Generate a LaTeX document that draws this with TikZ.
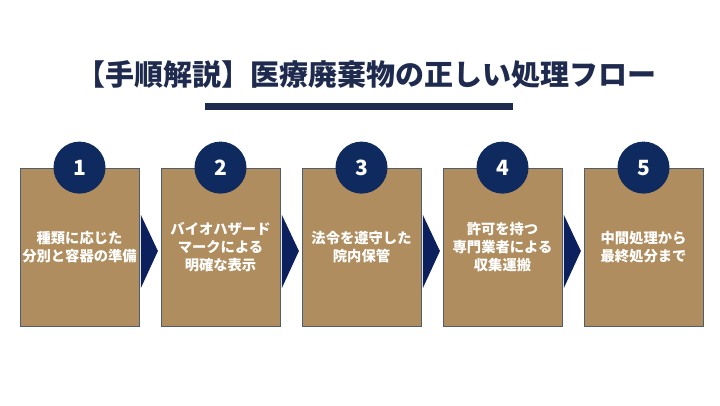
\documentclass[tikz,border=0pt]{standalone}
\usepackage{fontspec}
\setmainfont{Noto Sans CJK JP}
\newfontfamily\heavyjp{Noto Sans CJK JP Black}
\definecolor{titlenavy}{HTML}{1F2A4F}
\definecolor{circnavy}{HTML}{0E2A5E}
\definecolor{chevnavy}{HTML}{0B205C}
\definecolor{tan}{HTML}{B08D5E}
\definecolor{boxedge}{HTML}{4E5E6A}
\tikzset{
  stepbox/.style={draw=boxedge, line width=0.8pt, fill=tan, minimum width=119pt, minimum height=158pt, inner sep=0pt},
  steptext/.style={text=white, align=center, font=\heavyjp\fontsize{14.3}{18}\selectfont},
  numcirc/.style={circle, fill=circnavy, minimum size=52pt, inner sep=0pt, text=white, font=\bfseries\fontsize{21}{21}\selectfont},
  chev/.style={fill=chevnavy}
}
\begin{document}
\begin{tikzpicture}[x=1pt,y=-1pt]
\useasboundingbox (0,0) rectangle (720,405);
\fill[white] (0,0) rectangle (720,405);
\node[text=titlenavy, font=\heavyjp\fontsize{29}{29}\selectfont, inner sep=0pt] (title) at (366,75) {【手順解説】医療廃棄物の正しい処理フロー};
\fill[titlenavy] (205,103) rectangle (513,110);
\foreach \i/\t in {1/{種類に応じた\\分別と容器の準備},2/{バイオハザード\\マークによる\\明確な表示},3/{法令を遵守した\\院内保管},4/{許可を持つ\\専門業者による\\収集運搬},5/{中間処理から\\最終処分まで}}{
  \node[stepbox] (b\i) at ({79.5+141*(\i-1)},247) {};
  \node[steptext] (t\i) at (b\i.center) {\t};
  \node[numcirc] (c\i) at (b\i.north) {\i};
}
\foreach \i in {1,2,3,4}{
  \fill[chev] ([xshift=1.5pt,yshift=32pt]b\i.east) -- ([xshift=18.5pt,yshift=-4pt]b\i.east) -- ([xshift=1.5pt,yshift=-41pt]b\i.east) -- cycle;
}
\end{tikzpicture}
\end{document}
